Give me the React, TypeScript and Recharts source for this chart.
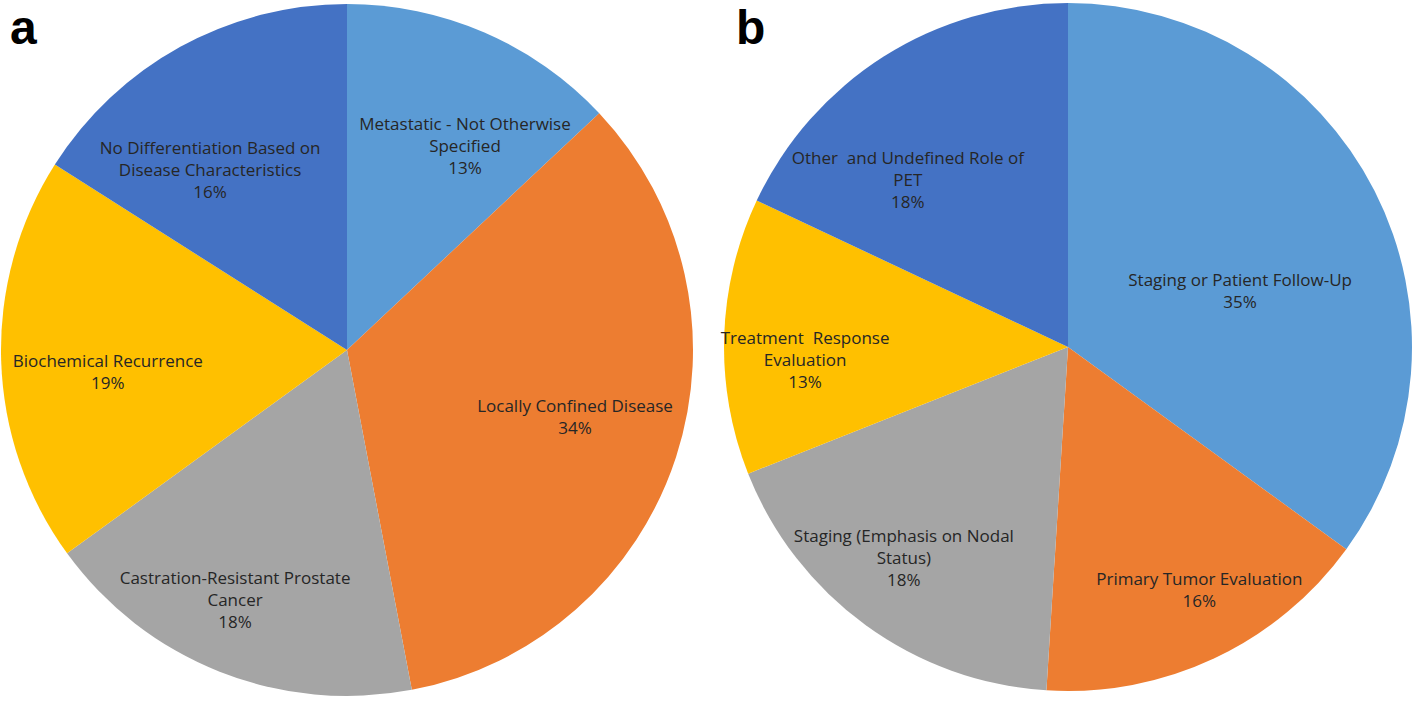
import { Cell, Pie, PieChart } from "recharts";

// panel a: disease setting
const diseaseNames = [
  "Metastatic - Not Otherwise\nSpecified",
  "Locally Confined Disease",
  "Castration-Resistant Prostate\nCancer",
  "Biochemical Recurrence",
  "No Differentiation Based on\nDisease Characteristics",
];
const diseaseShares = [13, 34, 18, 19, 16];

// panel b: role of PET
const roleNames = [
  "Staging or Patient Follow-Up",
  "Primary Tumor Evaluation",
  "Staging (Emphasis on Nodal\nStatus)",
  "Treatment  Response\nEvaluation",
  "Other  and Undefined Role of\nPET",
];
const roleShares = [35, 16, 18, 13, 18];

const sliceColors = ["#5B9BD5", "#ED7D31", "#A5A5A5", "#FFC000", "#4472C4"];

// label placement (Excel "best fit" drifts a little from the mid angle)
const labelRadiusA = [0.684, 0.686, 0.789, 0.694, 0.656];
const labelShiftA = [6.5, -1.9, 2.6, -3.2, -8.3];
const labelRadiusB = [0.527, 0.8, 0.775, 0.765, 0.675];
const labelShiftB = [8.7, -3.3, 2, -4.4, -11.2];

const RAD = Math.PI / 180;
const LINE_H = 22;

const toRows = (names: string[], shares: number[]) =>
  names.map((name, i) => ({ name, value: shares[i] }));

const makeLabel = (radius: number[], shift: number[]) => (props: any) => {
  const { cx, cy, midAngle, outerRadius, index, name, value } = props;
  const angle = (midAngle - shift[index]) * RAD;
  const r = outerRadius * radius[index];
  const x = cx + r * Math.cos(angle);
  const y = cy - r * Math.sin(angle);
  const lines = [...String(name).split("\n"), `${value}%`];
  const top = y - ((lines.length - 1) * LINE_H) / 2;
  return (
    <text
      x={x}
      y={top}
      textAnchor="middle"
      dominantBaseline="central"
      fill="#262626"
      fontSize={17}
      fontFamily="'Open Sans', sans-serif"
    >
      {lines.map((line, i) => (
        <tspan key={i} x={x} y={top + i * LINE_H} style={{ whiteSpace: "pre" }}>
          {line}
        </tspan>
      ))}
    </text>
  );
};

export default function App() {
  return (
    <div style={{ position: "absolute", left: 0, top: 0, width: 1418, height: 701, background: "#fff" }}>
      <PieChart width={1418} height={701} margin={{ top: 0, right: 0, bottom: 0, left: 0 }}>
        <Pie
          data={toRows(diseaseNames, diseaseShares)}
          dataKey="value"
          nameKey="name"
          cx={347}
          cy={350}
          outerRadius={346}
          startAngle={90}
          endAngle={-270}
          stroke="none"
          labelLine={false}
          label={makeLabel(labelRadiusA, labelShiftA)}
          isAnimationActive={false}
        >
          {diseaseShares.map((_, i) => (
            <Cell key={i} fill={sliceColors[i]} />
          ))}
        </Pie>
        <Pie
          data={toRows(roleNames, roleShares)}
          dataKey="value"
          nameKey="name"
          cx={1068}
          cy={347}
          outerRadius={344}
          startAngle={90}
          endAngle={-270}
          stroke="none"
          labelLine={false}
          label={makeLabel(labelRadiusB, labelShiftB)}
          isAnimationActive={false}
        >
          {roleShares.map((_, i) => (
            <Cell key={i} fill={sliceColors[i]} />
          ))}
        </Pie>
        <text x={10} y={44} fontSize={48} fontWeight="bold" fontFamily="'Liberation Sans', Arial, sans-serif" fill="#000">
          a
        </text>
        <text x={736} y={44} fontSize={48} fontWeight="bold" fontFamily="'Liberation Sans', Arial, sans-serif" fill="#000">
          b
        </text>
      </PieChart>
    </div>
  );
}
